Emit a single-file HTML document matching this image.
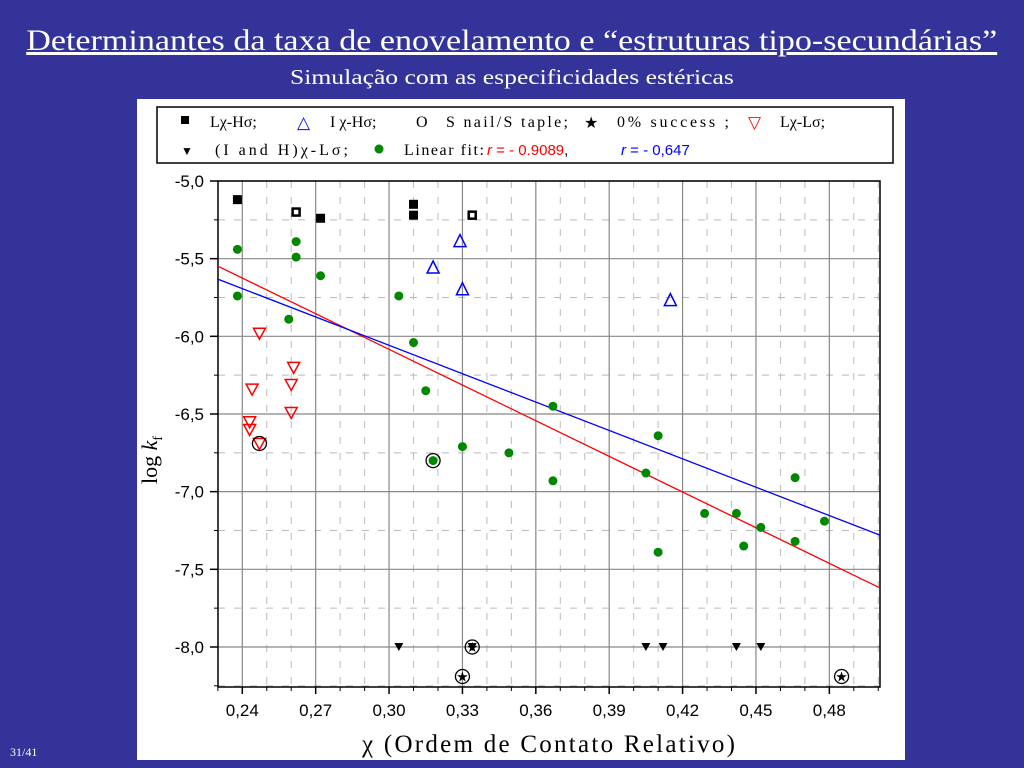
<!DOCTYPE html>
<html><head><meta charset="utf-8"><style>
body{margin:0;width:1024px;height:768px;background:#333399;overflow:hidden;font-family:"Liberation Serif",serif;}
#title{position:absolute;left:0;width:1024px;top:24px;text-align:center;color:#fff;font-size:30px;}
#title span{display:inline-block;text-decoration:underline;transform:scaleX(1.135);transform-origin:center;}
#sub{position:absolute;left:0;width:1024px;top:65px;text-align:center;color:#fff;font-size:21px;}
#sub span{display:inline-block;transform:scaleX(1.22);}
#pg{position:absolute;left:10px;top:745px;color:#fff;font-size:12px;}
#panel{position:absolute;left:137px;top:99px;width:768px;height:661px;background:#fff;}
</style></head><body>
<div id="title"><span>Determinantes da taxa de enovelamento e “estruturas tipo-secundárias”</span></div>
<div id="sub"><span>Simulação com as especificidades estéricas</span></div>
<div id="pg">31/41</div>
<div id="panel"></div>
<svg id="chart" width="1024" height="768" style="position:absolute;left:0;top:0">
<g>
<rect x="157" y="107" width="736" height="56" fill="#fff" stroke="#000" stroke-width="1.5"/>
<g font-family="Liberation Serif, serif" font-size="16">
<rect x="181" y="116" width="8" height="8" fill="#000"/>
<text x="210" y="127">Lχ-Hσ;</text>
<text x="297" y="128" fill="#00f" font-size="17">△</text>
<text x="330" y="127">I χ-Hσ;</text>
<text x="416" y="127">O</text>
<text x="446" y="127" textLength="122">S nail/S taple;</text>
<text x="584" y="128" font-size="16">★</text>
<text x="617" y="127" font-family="Liberation Serif, serif" font-size="16" textLength="112">0% success ;</text>
<text x="748" y="128" fill="#f00" font-size="17">▽</text>
<text x="780" y="127">Lχ-Lσ;</text>
<text x="181" y="155" font-size="12">▼</text>
<text x="215" y="155" textLength="133">(I and H)χ-Lσ;</text>
<circle cx="379" cy="149" r="4.5" fill="#080"/>
<text x="404" y="155" textLength="80">Linear fit:</text>
<text x="487" y="155" fill="#f00" font-family="Liberation Sans, sans-serif" font-size="15"><tspan font-style="italic">r</tspan> = - 0.9089<tspan fill="#000">,</tspan></text>
<text x="621" y="155" fill="#00f" font-family="Liberation Sans, sans-serif" font-size="15"><tspan font-style="italic">r</tspan> = - 0,647</text>
</g></g>
<g id="grid"></g><g id="axes"></g><g id="fits"></g><g id="marks"></g>
<text x="362" y="752" font-size="25" font-family="Liberation Serif, serif" textLength="373">χ   (Ordem de Contato Relativo)</text>
<text transform="translate(157,460) rotate(-90)" text-anchor="middle" font-size="22" font-family="Liberation Serif, serif">log <tspan font-style="italic">k</tspan><tspan font-size="14" dy="5">f</tspan></text>
</svg>
<script>
const xTicks=[0.24,0.27,0.30,0.33,0.36,0.39,0.42,0.45,0.48];
const xTickLabels=["0,24","0,27","0,30","0,33","0,36","0,39","0,42","0,45","0,48"];
const yTicks=[-5.0,-5.5,-6.0,-6.5,-7.0,-7.5,-8.0];
const yTickLabels=["-5,0","-5,5","-6,0","-6,5","-7,0","-7,5","-8,0"];
const sqX=[0.238,0.272,0.310,0.310];
const sqY=[-5.12,-5.24,-5.15,-5.22];
const openSqX=[0.262,0.334];
const openSqY=[-5.20,-5.22];
const triX=[0.329,0.318,0.330,0.415];
const triY=[-5.39,-5.56,-5.70,-5.77];
const greenX=[0.238,0.262,0.262,0.272,0.238,0.304,0.259,0.310,0.315,0.318,0.330,0.349,0.367,0.367,0.405,0.410,0.410,0.429,0.442,0.445,0.452,0.466,0.466,0.478];
const greenY=[-5.44,-5.39,-5.49,-5.61,-5.74,-5.74,-5.89,-6.04,-6.35,-6.80,-6.71,-6.75,-6.45,-6.93,-6.88,-6.64,-7.39,-7.14,-7.14,-7.35,-7.23,-6.91,-7.32,-7.19];
const redX=[0.247,0.244,0.261,0.260,0.243,0.243,0.260,0.247];
const redY=[-5.98,-6.34,-6.20,-6.31,-6.55,-6.60,-6.49,-6.69];
const blkTriX=[0.304,0.334,0.405,0.412,0.442,0.452];
const blkTriY=[-8.0,-8.0,-8.0,-8.0,-8.0,-8.0];
const starX=[0.330,0.485,0.334];
const starY=[-8.19,-8.19,-8.0];
const circledX=[0.247,0.318,0.330,0.485,0.334];
const circledY=[-6.69,-6.80,-8.19,-8.19,-8.0];
const fitX=[0.2297,0.5007];
const fitRedY=[-5.546,-7.62];
const fitBlueY=[-5.63,-7.28];

const X0=218,X1=880,Y0=181,Y1=687;
const sx=v=>242.3+(v-0.24)*2446;
const sy=v=>181+(-5.0-v)*155.33;
const NS="http://www.w3.org/2000/svg";
function mk(parent,tag,attrs){const e=document.createElementNS(NS,tag);for(const k in attrs)e.setAttribute(k,attrs[k]);document.getElementById(parent).appendChild(e);return e;}

for(let i=23;i<=50;i++){const v=i/100;if(xTicks.some(t=>Math.abs(t-v)<1e-6))continue;
 const e=mk('grid','line',{x1:sx(v),x2:sx(v),y1:Y0,y2:Y1,stroke:'#bbb','stroke-dasharray':'7,9'});
 
 
 const m=mk('axes','line',{x1:sx(v),x2:sx(v),y1:Y1,y2:Y1+4,stroke:'#000'});
 
 }
for(let v=-5.25;v>-8.3;v-=0.5){
 const e=mk('grid','line',{x1:X0,x2:X1,y1:sy(v),y2:sy(v),stroke:'#bbb','stroke-dasharray':'7,9'});
 
 
 const m=mk('axes','line',{x1:X0-4,x2:X0,y1:sy(v),y2:sy(v),stroke:'#000'});
 
 }
xTicks.forEach((v,i)=>{
 const e=mk('grid','line',{x1:sx(v),x2:sx(v),y1:Y0,y2:Y1,stroke:'#888','stroke-width':1.2});
 
 
 const tk=mk('axes','line',{x1:sx(v),x2:sx(v),y1:Y1,y2:Y1+7,stroke:'#000','stroke-width':1.5});
 
 
 const t=mk('axes','text',{x:sx(v),y:Y1+29,'text-anchor':'middle','font-size':17,'font-family':'Liberation Sans, sans-serif'});
 t.textContent=xTickLabels[i];
 
 });
yTicks.forEach((v,i)=>{
 const e=mk('grid','line',{x1:X0,x2:X1,y1:sy(v),y2:sy(v),stroke:'#888','stroke-width':1.2});
 
 
 const tk=mk('axes','line',{x1:X0-8,x2:X0,y1:sy(v),y2:sy(v),stroke:'#000','stroke-width':1.5});
 
 
 const t=mk('axes','text',{x:X0-14,y:sy(v)+6,'text-anchor':'end','font-size':17,'font-family':'Liberation Sans, sans-serif'});
 t.textContent=yTickLabels[i];
 
 });
const fr=mk('axes','rect',{x:X0,y:Y0,width:X1-X0,height:Y1-Y0,fill:'none',stroke:'#000','stroke-width':1.5});



const lr=mk('fits','line',{x1:sx(fitX[0]),y1:sy(fitRedY[0]),x2:sx(fitX[1]),y2:sy(fitRedY[1]),stroke:'#f00','stroke-width':1.3});


const lb=mk('fits','line',{x1:sx(fitX[0]),y1:sy(fitBlueY[0]),x2:sx(fitX[1]),y2:sy(fitBlueY[1]),stroke:'#00f','stroke-width':1.3});



greenX.forEach((v,i)=>{const e=mk('marks','circle',{cx:sx(v),cy:sy(greenY[i]),r:4.5,fill:'#080'});
 
 });
sqX.forEach((v,i)=>{const e=mk('marks','rect',{x:sx(v)-4.5,y:sy(sqY[i])-4.5,width:9,height:9,fill:'#000'});
 
 });
openSqX.forEach((v,i)=>{const e=mk('marks','rect',{x:sx(v)-3.5,y:sy(openSqY[i])-3.5,width:7,height:7,fill:'#fff',stroke:'#000','stroke-width':2.5});
 
 });
triX.forEach((v,i)=>{const x=sx(v),y=sy(triY[i]);const e=mk('marks','polygon',{points:`${x},${y-7} ${x-6},${y+5} ${x+6},${y+5}`,fill:'none',stroke:'#00f','stroke-width':1.5});
 
 });
redX.forEach((v,i)=>{const x=sx(v),y=sy(redY[i]);const e=mk('marks','polygon',{points:`${x-6},${y-5} ${x+6},${y-5} ${x},${y+6}`,fill:'none',stroke:'#f00','stroke-width':1.5});
 
 });
blkTriX.forEach((v,i)=>{const x=sx(v),y=sy(blkTriY[i]);const e=mk('marks','polygon',{points:`${x-4.5},${y-4} ${x+4.5},${y-4} ${x},${y+4}`,fill:'#000'});
 
 });
starX.forEach((v,i)=>{const e=mk('marks','text',{x:sx(v),y:sy(starY[i])+5,'text-anchor':'middle','font-size':14});
 e.textContent='★';
 
 });
circledX.forEach((v,i)=>{const e=mk('marks','circle',{cx:sx(v),cy:sy(circledY[i]),r:7,fill:'none',stroke:'#000','stroke-width':1.3});
 
 });
</script>
</body></html>
